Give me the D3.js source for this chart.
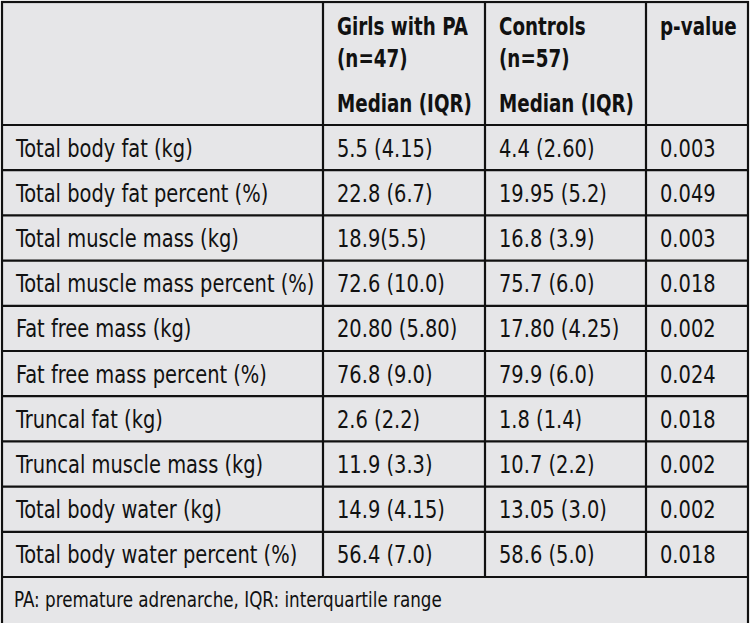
<!DOCTYPE html>
<html><head><meta charset="utf-8">
<script src="https://cdn.jsdelivr.net/npm/d3@7"></script>
<style>body{margin:0;background:#fff}svg{display:block}</style>
</head><body>
<script>
const rowLabels = ["Total body fat (kg)","Total body fat percent (%)","Total muscle mass (kg)","Total muscle mass percent (%)","Fat free mass (kg)","Fat free mass percent (%)","Truncal fat (kg)","Truncal muscle mass (kg)","Total body water (kg)","Total body water percent (%)"];
const girlsPA = ["5.5 (4.15)","22.8 (6.7)","18.9(5.5)","72.6 (10.0)","20.80 (5.80)","76.8 (9.0)","2.6 (2.2)","11.9 (3.3)","14.9 (4.15)","56.4 (7.0)"];
const controls = ["4.4 (2.60)","19.95 (5.2)","16.8 (3.9)","75.7 (6.0)","17.80 (4.25)","79.9 (6.0)","1.8 (1.4)","10.7 (2.2)","13.05 (3.0)","58.6 (5.0)"];
const pValues = ["0.003","0.049","0.003","0.018","0.002","0.024","0.018","0.002","0.002","0.018"];
const headerCols = [[""],["Girls with PA","(n=47)","Median (IQR)"],["Controls","(n=57)","Median (IQR)"],["p-value"]];
const footnote = "PA: premature adrenarche, IQR: interquartile range";

const W = 750, H = 623;
const svg = d3.select("body").append("svg").attr("width", W).attr("height", H);
const FONT = "'DejaVu Sans Condensed','Liberation Sans Narrow',sans-serif";
const colEdges = [2, 323, 485, 646, 748];
const tableTop = 2, headerBottom = 125, bodyBottom = 577, tableBottom = 640;
const y = d3.scaleBand().domain(d3.range(rowLabels.length)).range([headerBottom, bodyBottom]);

svg.append("rect").attr("x", colEdges[0]).attr("y", tableTop).attr("width", colEdges[4]-colEdges[0]).attr("height", tableBottom - tableTop).attr("fill", "#e6e6e8");

const g = svg.append("g").attr("font-family", FONT).attr("fill", "#111");

function measure(txt, size, weight) {
  const t = g.append("text").attr("font-size", size).attr("font-weight", weight).text(txt);
  const w = t.node().getComputedTextLength();
  t.remove();
  return w;
}
const HDR = {size: 25, weight: "bold"};
const BODY = {size: 25, weight: "normal"};
const FOOT = {size: 21, weight: "normal"};
HDR.sx = (130 + 136) / (measure("Girls with PA", HDR.size, HDR.weight) + measure("Median (IQR)", HDR.size, HDR.weight));
BODY.sx = (287 + 293) / (measure("Total body water percent (%)", BODY.size, BODY.weight) + measure("Total muscle mass percent (%)", BODY.size, BODY.weight));
FOOT.sx = 428 / measure(footnote, FOOT.size, FOOT.weight);

function put(txt, x, yy, st) {
  g.append("text")
    .attr("transform", `translate(${x},${yy}) scale(${st.sx},1)`)
    .attr("font-size", st.size).attr("font-weight", st.weight).text(txt);
}

const hdrBase = [35, 67, 112];
headerCols.forEach((lines, c) => {
  lines.forEach((t, i) => { if (t) put(t, colEdges[c] + 14, hdrBase[i], HDR); });
});
const cols = [rowLabels, girlsPA, controls, pValues];
cols.forEach((arr, c) => {
  arr.forEach((d, i) => put(d, colEdges[c] + 14, y(i) + 31.5, BODY));
});
put(footnote, 14, bodyBottom + 30, FOOT);

const lines = svg.append("g").attr("stroke", "#111").attr("stroke-width", 2.2).attr("fill", "none");
lines.append("rect").attr("x", colEdges[0]).attr("y", tableTop).attr("width", colEdges[4]-colEdges[0]).attr("height", tableBottom - tableTop);
colEdges.slice(1, 4).forEach(x => lines.append("line").attr("x1", x).attr("x2", x).attr("y1", tableTop).attr("y2", bodyBottom));
d3.range(rowLabels.length + 1).forEach(i => {
  const yy = i < rowLabels.length ? y(i) : bodyBottom;
  lines.append("line").attr("x1", colEdges[0]).attr("x2", colEdges[4]).attr("y1", yy).attr("y2", yy);
});
</script>
</body></html>
